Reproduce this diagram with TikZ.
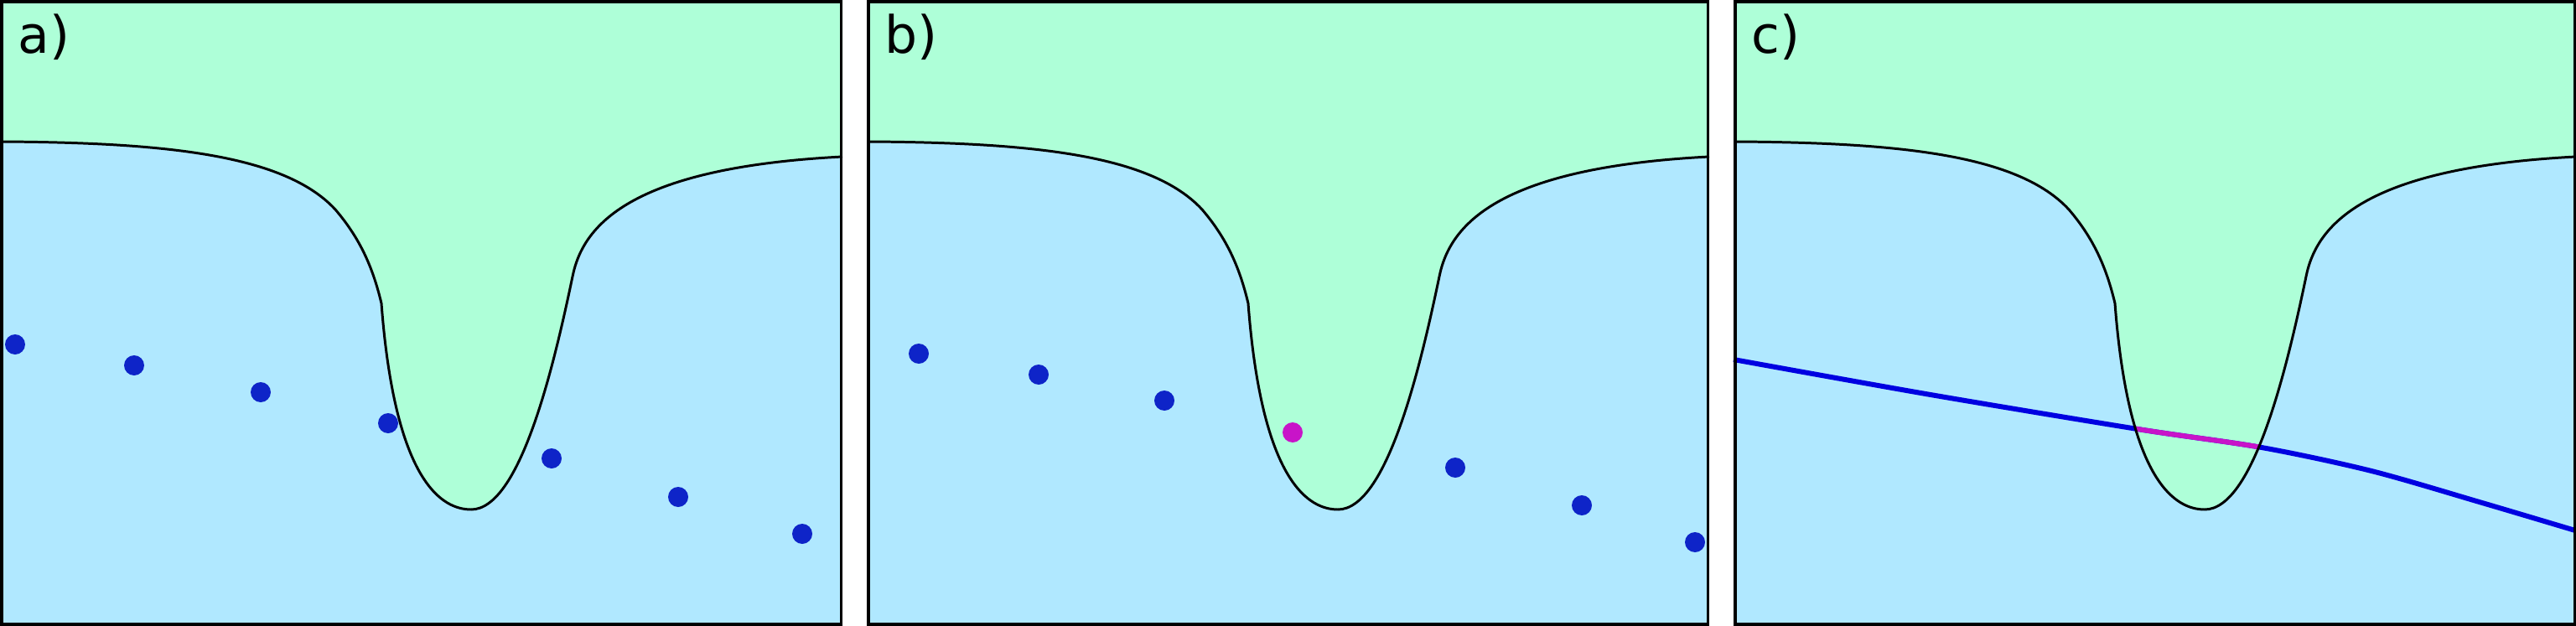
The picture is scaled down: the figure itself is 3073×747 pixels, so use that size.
\documentclass[tikz,border=0pt]{standalone}
\usepackage{fontspec}
\setmainfont{DejaVu Sans}

\definecolor{topgreen}{RGB}{174,255,216}
\definecolor{lowblue}{RGB}{176,232,255}
\definecolor{dotblue}{RGB}{14,36,200}
\definecolor{hitmag}{RGB}{200,20,200}
\definecolor{trackblue}{RGB}{0,0,225}

% interface between the two regions, panel coordinates (y downwards)
\newcommand{\iface}{(0,169) .. controls (200,170) and (340,185) .. (400,250)
  .. controls (430,285) and (445,320) .. (455,362)
  .. controls (470,560) and (520,608) .. (562,608)
  .. controls (620,608) and (660,440) .. (683,330)
  .. controls (695,270) and (750,200) .. (1005,187)}

\begin{document}
\begin{tikzpicture}[x=0.1mm,y=-0.1mm,
  frame/.style={draw=black,line width=1pt},
  wall/.style={draw=black,line width=0.85pt},
  tag/.style={font=\fontsize{17.5}{20}\selectfont,inner sep=0pt,anchor=base west}]
  \useasboundingbox (0,0) rectangle (3073,747);
  % backgrounds
  \foreach \x in {0,1034,2068}{
    \begin{scope}[shift={(\x,0)}]
      \fill[lowblue] (0,0) rectangle (1005,747);
      \fill[topgreen] (0,0) -- \iface -- (1005,0) -- cycle;
    \end{scope}}
  % a) single points
  \foreach \px/\py in {18/411,160/436,311/468,463/505,658/547,809/593,957/637}
    \fill[dotblue] (\px,\py) circle (1.2mm);
  % b) one point inside
  \begin{scope}[shift={(1034,0)}]
    \foreach \px/\py in {62/422,205/447,355/478,702/558,853/603,988/647}
      \fill[dotblue] (\px,\py) circle (1.2mm);
    \fill[hitmag] (508,516) circle (1.2mm);
  \end{scope}
  % c) continuous track
  \begin{scope}[shift={(2068,0)}]
    \def\track{plot[smooth] coordinates {(0,429) (235,471) (482,512) (630,534) (761,562) (893,600) (1004,633)}}
    \draw[trackblue,line width=1.7pt] \track;
    \begin{scope}
      \clip (0,0) -- \iface -- (1005,0) -- cycle;
      \draw[hitmag,line width=1.7pt] \track;
    \end{scope}
  \end{scope}
  % outlines and labels
  \foreach \x/\t/\n in {0/a)/la,1034/b)/lb,2068/c)/lc}{
    \begin{scope}[shift={(\x,0)}]
      \draw[wall] \iface;
      \draw[frame] (1.75,1.75) rectangle (1003.25,745.25);
      \node[tag] (\n) at (21,63) {\t};
    \end{scope}}
\end{tikzpicture}
\end{document}
